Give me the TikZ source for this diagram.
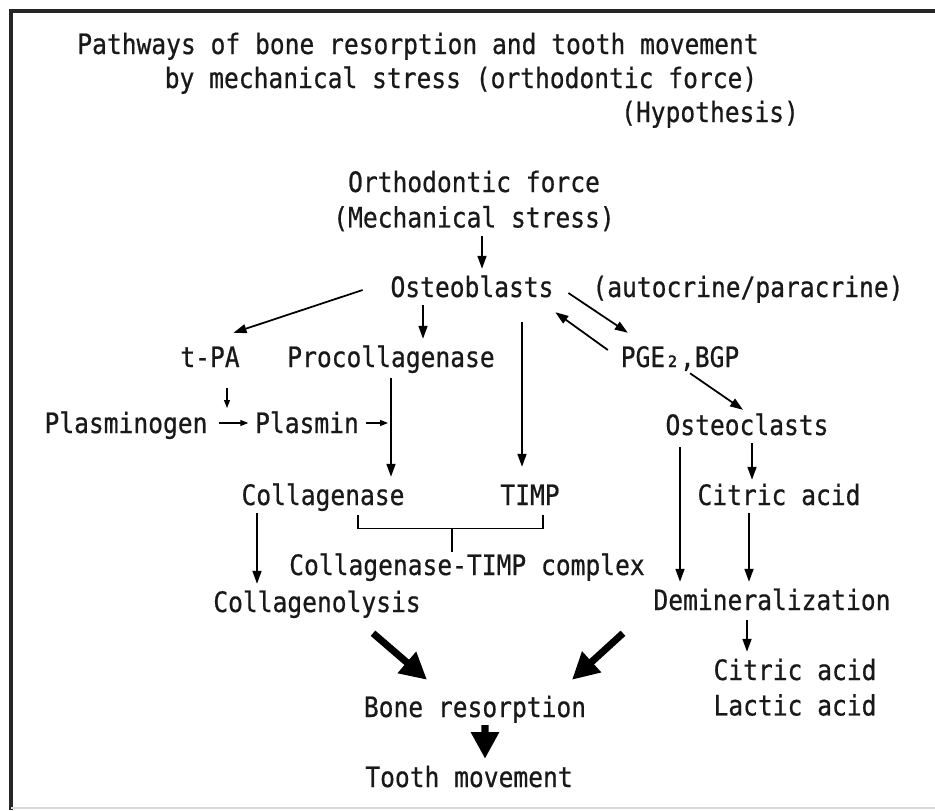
\documentclass[tikz,border=0pt]{standalone}
\usepackage{fontspec}
\newfontfamily\dgfont[FakeStretch=0.875,FakeBold=0.6]{DejaVu Sans Mono}
\usepackage{tikz}
\usetikzlibrary{arrows.meta,positioning,calc}

\begin{document}
\begin{tikzpicture}[
  x=0.03cm, y=-0.03cm,
  txt/.style={font=\dgfont\fontsize{24}{30}\selectfont, text=black!90,
    inner xsep=0.2cm, inner ysep=0.24cm, text height=0.6cm, text depth=0pt},
  arr/.style={-{Triangle[length=0.39cm,width=0.27cm]}, line width=1.5pt},
  sarr/.style={-{Triangle[length=0.24cm,width=0.18cm]}, line width=1.1pt},
  fat/.style={-{Triangle[length=0.8cm,width=0.8cm]}, line width=6pt},
  brk/.style={line width=1.1pt},
  frm/.style={line width=2.6pt, black!85},
]
\path[fill=white] (0,0) rectangle (935,810);
\useasboundingbox (0,0) rectangle (935,810);

%==================== FRAME ====================
\draw[frm] (11,810) -- (11,11) -- (935,11);
\draw[black!15, line width=1pt] (11,808) -- (935,808);

%==================== TITLE ====================
\node[txt] (t1) at (418,44) {Pathways of bone resorption and tooth movement};
\node[txt] (t2) at (461,78) {by mechanical stress (orthodontic force)};
\node[txt] (t3) at (710,112) {(Hypothesis)};

%==================== TOP: force -> osteoblasts ====================
\node[txt] (force) at (474,182) {Orthodontic force};
\node[txt, below=-0.03cm of force] (mech) {(Mechanical stress)};
\node[txt] (ob) at (472,287) {Osteoblasts};
\node[txt] (auto) at (748,287) {(autocrine/paracrine)};

%==================== LEFT: collagenase branch ====================
\node[txt] (tpa) at (210,357) {t-PA};
\node[txt] (proc) at (391,357) {Procollagenase};
\node[txt] (plg) at (126,423) {Plasminogen};
\node[txt] (pls) at (307,423) {Plasmin};
\node[txt] (coll) at (323,495) {Collagenase};
\node[txt] (timp) at (530,495) {TIMP};
\node[txt] (cplx) at (467,565) {Collagenase-TIMP complex};
\node[txt] (lysis) at (317,602) {Collagenolysis};

%==================== RIGHT: osteoclast branch ====================
\node[txt] (pge) at (680,357) {PGE₂,BGP};
\node[txt] (ocl) at (747,425) {Osteoclasts};
\node[txt] (cit1) at (779,495) {Citric acid};
\node[txt] (demin) at (772,600) {Demineralization};
\node[txt] (cit2) at (795,670) {Citric acid};
\node[txt, below=-0.03cm of cit2] (lac) {Lactic acid};

%==================== BOTTOM ====================
\node[txt] (bone) at (475,707) {Bone resorption};
\node[txt] (tooth) at (469,777) {Tooth movement};

%==================== ARROWS ====================
\draw[arr] ([xshift=0.24cm]mech.south) -- ([xshift=0.3cm]ob.north);
\draw[arr] ([xshift=-0.63cm,yshift=-0.09cm]ob.west)
  -- ([xshift=-0.39cm,yshift=0.18cm]tpa.north east);
\draw[arr] ([xshift=-1.47cm]ob.south) -- ([xshift=0.96cm]proc.north);
\draw[arr, shorten <=0.51cm, shorten >=0.3cm]
  ([xshift=1.5cm]ob.south) -- ([xshift=-0.24cm]timp.north);
% osteoblasts <-> PGE2 (autocrine/paracrine)
\draw[arr] ([xshift=0.24cm,yshift=-0.18cm]ob.east)
  -- ([xshift=0.42cm,yshift=0.18cm]pge.north west);
\draw[arr] ([xshift=-0.18cm,yshift=0.21cm]pge.west)
  -- ([xshift=-0.15cm,yshift=-0.21cm]ob.south east);
\draw[arr] ([xshift=0.3cm,yshift=0.06cm]pge.south)
  -- ([xshift=-0.12cm,yshift=-0.09cm]ocl.north);

% plasmin activation
\draw[sarr, shorten <=0.15cm] (plg.east) -- (pls.west);
\coordinate (cv) at ($(plg.east)!0.5!(pls.west)$);
\draw[sarr, shorten <=0.39cm, shorten >=0.45cm]
  ([xshift=0.51cm]tpa.south) -- ([xshift=0.51cm]tpa.south |- cv);
\draw[arr, shorten <=0.09cm] (proc.south) -- (proc.south |- coll.north);
\draw[sarr, shorten >=0.09cm] (pls.east) -- (pls.east -| proc.south);

% collagenase + TIMP
\coordinate (bj) at ([xshift=-0.45cm,yshift=0.54cm]cplx.north);
\draw[brk] ([xshift=1.05cm,yshift=-0.06cm]coll.south) |- (bj)
  -| ([xshift=0.39cm,yshift=-0.06cm]timp.south);
\draw[brk] (bj) -- ([xshift=-0.45cm,yshift=-0.15cm]cplx.north);
\draw[arr] ([xshift=-1.98cm]coll.south) -- ([xshift=-1.8cm]lysis.north);

% osteoclasts
\draw[arr] ([xshift=-2.01cm,yshift=-0.12cm]ocl.south) -- ([xshift=-2.76cm]demin.north);
\draw[arr] ([xshift=0.15cm]ocl.south) -- ([xshift=-0.81cm,yshift=-0.09cm]cit1.north);
\draw[arr] ([xshift=-0.9cm]cit1.south) -- ([xshift=-0.69cm]demin.north);
\draw[arr] ([xshift=-0.75cm,yshift=-0.06cm]demin.south) -- ([xshift=-1.44cm]cit2.north);

% resorption
\draw[fat] ([xshift=1.68cm,yshift=-0.39cm]lysis.south)
  -- ([xshift=-1.44cm,yshift=0.27cm]bone.north);
\draw[fat] ([xshift=-4.47cm,yshift=-0.45cm]demin.south)
  -- ([xshift=2.91cm,yshift=0.27cm]bone.north);
\draw[fat] ([xshift=0.3cm]bone.south) -- ([xshift=0.48cm]tooth.north);

\end{tikzpicture}
\end{document}
